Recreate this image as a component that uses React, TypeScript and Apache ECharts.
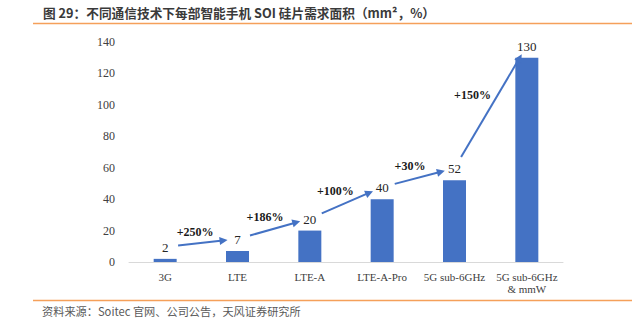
import React, { useEffect, useRef } from 'react';
import * as echarts from 'echarts';

const categories = ['3G', 'LTE', 'LTE-A', 'LTE-A-Pro', '5G sub-6GHz', '5G sub-6GHz\n& mmW'];
const areaValues = [2, 7, 20, 40, 52, 130];
const growthLabels = ['+250%', '+186%', '+100%', '+30%', '+150%'];
const yMin = 0;
const yMax = 140;
const yInterval = 20;
const titleText = '图 29：不同通信技术下每部智能手机 SOI 硅片需求面积（mm²，%）';
const sourceText = '资料来源：Soitec 官网、公司公告，天风证券研究所';

export default function App() {
  const ref = useRef<HTMLDivElement>(null);
  useEffect(() => {
    const chart = echarts.init(ref.current as HTMLDivElement, null, { renderer: 'svg' });
    const blue = '#4472C4';
    const serif = "'Liberation Serif', 'Times New Roman', serif";
    const cjk = "'Noto Sans CJK SC', 'Noto Sans', sans-serif";
    const arrowData = growthLabels.map((_, i) => [i, areaValues[i], i + 1, areaValues[i + 1]]);

    chart.setOption({
      animation: false,
      grid: { left: 129, top: 42, width: 434, height: 220, containLabel: false },
      xAxis: {
        type: 'category',
        data: categories,
        axisLine: { lineStyle: { color: '#d9d9d9', width: 1 } },
        axisTick: { show: false },
        axisLabel: {
          fontFamily: serif,
          fontSize: 11,
          color: '#404040',
          margin: 9,
          lineHeight: 12,
          interval: 0,
        },
      },
      yAxis: {
        type: 'value',
        min: yMin,
        max: yMax,
        interval: yInterval,
        axisLine: { show: false },
        axisTick: { show: false },
        splitLine: { show: false },
        axisLabel: { fontFamily: serif, fontSize: 12, color: '#404040', margin: 14 },
      },
      series: [
        {
          type: 'bar',
          data: areaValues,
          barWidth: 23,
          itemStyle: { color: blue },
          label: {
            show: true,
            position: 'top',
            distance: 5,
            fontFamily: serif,
            fontSize: 13,
            color: '#262626',
          },
        },
        {
          type: 'custom',
          data: arrowData,
          z: 10,
          clip: false,
          renderItem: (params: any, api: any) => {
            const p0 = api.coord([api.value(0), api.value(1)]);
            const p1 = api.coord([api.value(2), api.value(3)]);
            const sx = p0[0];
            const sy = p0[1] - 12;
            const ex = p1[0];
            const ey = p1[1] - 12;
            const dx = ex - sx;
            const dy = ey - sy;
            const len = Math.sqrt(dx * dx + dy * dy);
            const ux = dx / len;
            const uy = dy / len;
            const ax = sx + ux * 13;
            const ay = sy + uy * 13;
            const bx = ex - ux * 10;
            const by = ey - uy * 10;
            const hx = bx - ux * 8;
            const hy = by - uy * 8;
            const nx = -uy;
            const ny = ux;
            const mx = (ax + bx) / 2;
            const my = (ay + by) / 2;
            const steep = Math.abs(uy);
            return {
              type: 'group',
              children: [
                {
                  type: 'line',
                  shape: { x1: ax, y1: ay, x2: hx + ux * 1, y2: hy + uy * 1 },
                  style: { stroke: blue, lineWidth: 2 },
                },
                {
                  type: 'polygon',
                  shape: {
                    points: [
                      [bx, by],
                      [hx + nx * 4, hy + ny * 4],
                      [hx - nx * 4, hy - ny * 4],
                    ],
                  },
                  style: { fill: blue },
                },
                {
                  type: 'text',
                  style: {
                    text: growthLabels[params.dataIndex],
                    x: mx - 6 - 15 * steep,
                    y: my - 11,
                    fill: '#1a1a1a',
                    fontFamily: serif,
                    fontSize: 12,
                    fontWeight: 'bold',
                    align: 'center',
                    verticalAlign: 'middle',
                  },
                },
              ],
            };
          },
        },
      ],
      graphic: [
        {
          type: 'text',
          left: 43,
          top: 6,
          style: { text: titleText, fontFamily: cjk, fontSize: 12.7, fontWeight: 'bold', fill: '#3a3a3a' },
        },
        {
          type: 'line',
          shape: { x1: 33, y1: 23.5, x2: 632, y2: 23.5 },
          style: { stroke: '#F5A05A', lineWidth: 1.5 },
        },
        {
          type: 'line',
          shape: { x1: 33, y1: 300.5, x2: 632, y2: 300.5 },
          style: { stroke: '#F5A05A', lineWidth: 1.5 },
        },
        {
          type: 'text',
          left: 42,
          top: 305,
          style: { text: sourceText, fontFamily: cjk, fontSize: 11.2, fill: '#595959' },
        },
      ],
    });
    return () => chart.dispose();
  }, []);
  return (
    <div
      ref={ref}
      style={{ position: 'fixed', left: 0, top: 0, width: 634, height: 323, background: '#fff' }}
    />
  );
}
